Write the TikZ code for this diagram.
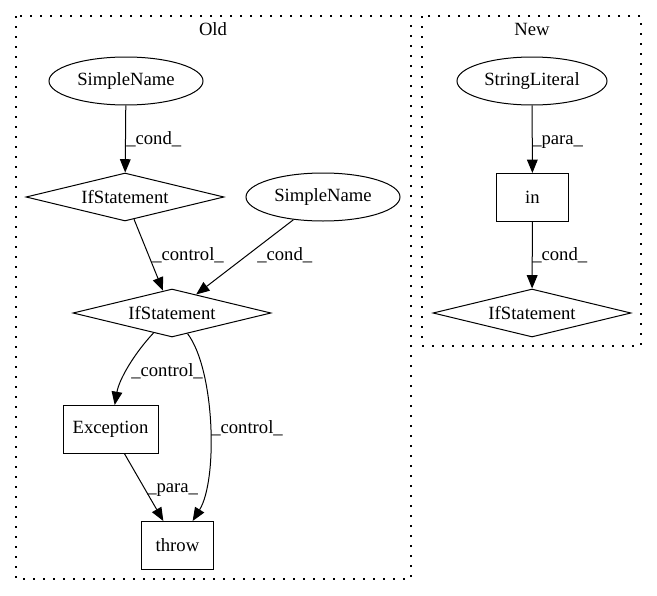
\documentclass[tikz,border=0pt]{standalone}
\usepackage{fontspec}
\setmainfont{Liberation Serif}
\usetikzlibrary{shapes.geometric,arrows.meta}
\begin{document}
\begin{tikzpicture}[x=0.75pt,y=-0.75pt,
  every node/.style={font=\fontsize{14pt}{16pt}\selectfont},
  base/.style={draw,line width=0.75pt,inner sep=0pt},
  ell/.style={base,ellipse,minimum height=36pt},
  dia/.style={base,diamond,shape aspect=4.125,minimum width=148.5pt,minimum height=36pt},
  box/.style={base,rectangle,minimum height=36pt},
  frame/.style={line width=1pt,dash pattern=on 1.5pt off 6pt},
  edge/.style={line width=0.75pt,-{Triangle[length=10pt,width=8pt]}},
  lbl/.style={anchor=base west,inner sep=0pt},
  ttl/.style={anchor=base,inner sep=0pt}]
\useasboundingbox (0,0) rectangle (657,596);
% clusters
\draw[frame] (16,16) rectangle (411,579);
\draw[frame] (422,16) rectangle (641,346);
\node[ttl] (told) at (213,36) {Old};
\node[ttl] (tnew) at (532,36) {New};
% nodes old
\node[ell,minimum width=115.5pt] (sn1) at (126,81) {SimpleName};
\node[dia] (if1) at (125,197) {IfStatement};
\node[ell,minimum width=115.5pt] (sn2) at (323,197) {SimpleName};
\node[dia] (if2) at (172,313) {IfStatement};
\node[box,minimum width=71.25pt] (exc) at (110.5,429.5) {Exception};
\node[box,minimum width=54pt] (thr) at (177.5,545.5) {throw};
% nodes new
\node[ell,minimum width=112.5pt] (sl) at (532,81) {StringLiteral};
\node[box,minimum width=54pt] (in) at (532.5,197.5) {in};
\node[dia] (if3) at (532,313) {IfStatement};
% edges old
\draw[edge] (sn1) -- (if1);
\node[lbl] (l1) at (126,144.5) {\_cond\_};
\draw[edge] (if1) -- (if2);
\node[lbl] (l2) at (152,260.5) {\_control\_};
\draw[edge] (sn2) -- (if2);
\node[lbl] (l3) at (257,260.5) {\_cond\_};
\draw[edge] (if2) .. controls (133,355) and (119,380) .. (exc);
\node[lbl] (l4) at (131,376.5) {\_control\_};
\draw[edge] (if2) .. controls (215,370) and (218,480) .. (thr);
\node[lbl] (l5) at (211,433.5) {\_control\_};
\draw[edge] (exc) -- (thr);
\node[lbl] (l6) at (147,492.5) {\_para\_};
% edges new
\draw[edge] (sl) -- (in);
\node[lbl] (l7) at (532,144.5) {\_para\_};
\draw[edge] (in) -- (if3);
\node[lbl] (l8) at (532,260.5) {\_cond\_};
\end{tikzpicture}
\end{document}
